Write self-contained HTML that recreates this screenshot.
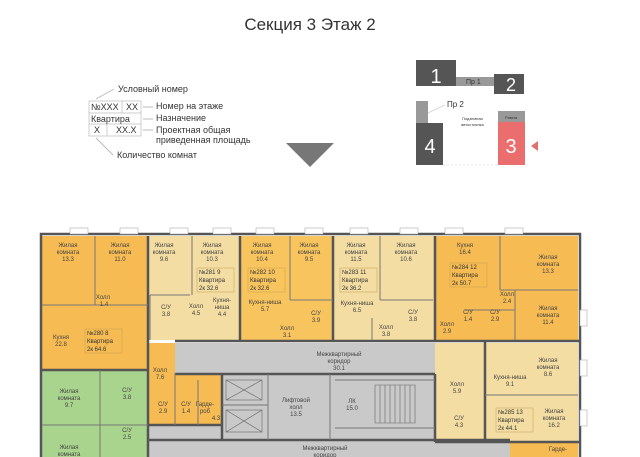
<!DOCTYPE html>
<html><head><meta charset="utf-8"><style>
body{margin:0;background:#fff;width:640px;height:457px;overflow:hidden}
svg{display:block}
text{font-family:"Liberation Sans",sans-serif;fill:#333}
.s{font-size:6px;text-anchor:middle;fill:#444}
</style></head><body>
<svg width="640" height="457" viewBox="0 0 640 457" xmlns="http://www.w3.org/2000/svg">
<text x="310" y="30" font-size="17" text-anchor="middle" fill="#444">Секция 3 Этаж 2</text>
<!-- legend -->
<g font-size="9" fill="#444">
<text x="118" y="92">Условный номер</text>
<text x="156" y="109">Номер на этаже</text>
<text x="156" y="121">Назначение</text>
<text x="156" y="133">Проектная общая</text>
<text x="156" y="143">приведенная площадь</text>
<text x="117" y="158">Количество комнат</text>
<rect x="89" y="101" width="52" height="35" fill="none" stroke="#bbb" stroke-width="0.7"/>
<line x1="89" y1="113" x2="141" y2="113" stroke="#bbb" stroke-width="0.7"/>
<line x1="89" y1="124" x2="141" y2="124" stroke="#bbb" stroke-width="0.7"/>
<line x1="122" y1="101" x2="122" y2="113" stroke="#bbb" stroke-width="0.7"/>
<line x1="107" y1="124" x2="107" y2="136" stroke="#bbb" stroke-width="0.7"/>
<line x1="143" y1="107" x2="153" y2="107" stroke="#bbb"/><line x1="143" y1="119" x2="153" y2="119" stroke="#bbb"/><line x1="143" y1="130" x2="153" y2="130" stroke="#bbb"/>
<line x1="96" y1="99" x2="114" y2="89" stroke="#bbb"/><line x1="96" y1="138" x2="113" y2="155" stroke="#bbb"/>
<text x="91" y="110">№XXX</text><text x="126" y="110">XX</text>
<text x="91" y="122">Квартира</text><text x="94" y="133">X</text><text x="116" y="133">XX.X</text>
</g>
<polygon points="286,143 334,143 310,167" fill="#777"/>
<!-- key plan -->
<rect x="416" y="60" width="40" height="26" fill="#555"/>
<text x="436" y="83" font-size="20" style="fill:#fff" text-anchor="middle">1</text>
<rect x="456" y="77" width="40" height="9" fill="#999"/>
<text x="466" y="84" font-size="7" fill="#333">Пр 1</text>
<rect x="494" y="74" width="30" height="20" fill="#555"/>
<text x="511" y="91" font-size="18" style="fill:#fff" text-anchor="middle">2</text>
<rect x="416" y="101" width="12" height="22" fill="#999"/>
<rect x="416" y="123" width="27" height="42" fill="#555"/>
<text x="430" y="153" font-size="20" style="fill:#fff" text-anchor="middle">4</text>
<text x="447" y="107" font-size="8" fill="#333">Пр 2</text>
<line x1="428" y1="113" x2="445" y2="105" stroke="#bbb" stroke-width="0.6"/>
<text x="462" y="120" font-size="4" fill="#666">Подземная</text><text x="461" y="126" font-size="4" fill="#666">автостоянка</text>
<rect x="498" y="111" width="27" height="11" fill="#999"/>
<text x="511" y="119" font-size="4" fill="#333" text-anchor="middle">Рампа</text>
<rect x="498" y="122" width="27" height="43" fill="#eb6e6e"/>
<text x="511" y="153" font-size="20" style="fill:#fff" text-anchor="middle">3</text>
<polygon points="531,146 538,141 538,151" fill="#e07070"/>
<line x1="443" y1="165" x2="498" y2="165" stroke="#ccc" stroke-dasharray="2,2" stroke-width="0.6"/>
<!-- plan fills -->
<rect x="40" y="234" width="540" height="223" fill="#fff"/>
<rect x="42" y="236" width="106" height="134" fill="#f6bb52"/>
<rect x="148" y="236" width="92" height="104" fill="#f3dda2"/>
<rect x="240" y="236" width="93" height="104" fill="#f8c45e"/>
<rect x="333" y="236" width="102" height="104" fill="#f3dda2"/>
<rect x="435" y="236" width="143" height="104" fill="#f6bb52"/>
<rect x="148" y="343" width="27" height="30" fill="#f6bb52"/>
<rect x="148" y="370" width="74" height="55" fill="#f6bb52"/>
<rect x="42" y="370" width="106" height="87" fill="#a9d48e"/>
<rect x="175" y="343" width="310" height="30" fill="#c9c9c9"/>
<rect x="222" y="373" width="213" height="67" fill="#c9c9c9"/>
<rect x="148" y="425" width="362" height="32" fill="#c9c9c9"/>
<rect x="435" y="343" width="143" height="100" fill="#f3dda2"/>
<rect x="510" y="443" width="68" height="14" fill="#f6bb52"/>
<!-- walls -->
<g stroke="#555" stroke-width="2.5" fill="none">
<path d="M41,457 V234 H580 V457"/>
<line x1="148" y1="236" x2="148" y2="457"/>
<line x1="240" y1="236" x2="240" y2="340"/>
<line x1="333" y1="236" x2="333" y2="340"/>
<line x1="435" y1="236" x2="435" y2="340"/>
<line x1="175" y1="341" x2="580" y2="341"/>
<line x1="42" y1="370" x2="148" y2="370"/>
<line x1="175" y1="374" x2="435" y2="374"/>
<line x1="222" y1="374" x2="222" y2="440"/>
<line x1="148" y1="425" x2="222" y2="425"/>
<line x1="148" y1="440" x2="510" y2="440"/>
<line x1="435" y1="374" x2="435" y2="442"/>
<line x1="485" y1="341" x2="485" y2="442"/>
<line x1="435" y1="442" x2="580" y2="442"/>
</g>
<g stroke="#777" stroke-width="1" fill="none">
<line x1="95" y1="236" x2="95" y2="305"/><line x1="42" y1="305" x2="148" y2="305"/>
<line x1="192" y1="236" x2="192" y2="295"/><line x1="150" y1="295" x2="190" y2="295"/><line x1="150" y1="295" x2="150" y2="340"/>
<line x1="290" y1="236" x2="290" y2="300"/><line x1="290" y1="300" x2="333" y2="300"/>
<line x1="380" y1="236" x2="380" y2="300"/><line x1="380" y1="300" x2="433" y2="300"/><line x1="372" y1="318" x2="372" y2="340"/>
<line x1="500" y1="236" x2="500" y2="290"/><line x1="500" y1="290" x2="578" y2="290"/>
<line x1="465" y1="310" x2="515" y2="310"/><line x1="515" y1="290" x2="515" y2="340"/>
<line x1="485" y1="395" x2="578" y2="395"/>
<line x1="268" y1="374" x2="268" y2="440"/><line x1="330" y1="374" x2="330" y2="440"/>
<line x1="222" y1="405" x2="268" y2="405"/>
<line x1="335" y1="380" x2="435" y2="380"/><line x1="335" y1="428" x2="435" y2="428"/>
<line x1="100" y1="370" x2="100" y2="457"/><line x1="42" y1="425" x2="148" y2="425"/>
<line x1="175" y1="373" x2="175" y2="425"/><line x1="198" y1="380" x2="198" y2="425"/>
</g>
<g stroke="#666" stroke-width="0.6" fill="none">
<rect x="226" y="380" width="36" height="20"/><line x1="226" y1="380" x2="262" y2="400"/><line x1="262" y1="380" x2="226" y2="400"/>
<rect x="226" y="410" width="36" height="22"/><line x1="226" y1="410" x2="262" y2="432"/><line x1="262" y1="410" x2="226" y2="432"/>
<path d="M375,385 h40 v38 h-40 z M380,385 v38 M385,385 v38 M390,385 v38 M395,385 v38 M400,385 v38 M405,385 v38 M410,385 v38"/>
</g>
<!-- labels -->
<g class="s">
<text x="68" y="247" class="s">Жилая</text><text x="68" y="254" class="s">комната</text><text x="68" y="261" class="s">13.3</text>
<text x="120" y="247" class="s">Жилая</text><text x="120" y="254" class="s">комната</text><text x="120" y="261" class="s">11.0</text>
<text x="103" y="299" class="s">Холл</text><text x="104" y="306" class="s">1.4</text>
<text x="61" y="339" class="s">Кухня</text><text x="61" y="346" class="s">22.8</text>
<text x="164" y="247" class="s">Жилая</text><text x="164" y="254" class="s">комната</text><text x="164" y="261" class="s">9.6</text>
<text x="212" y="247" class="s">Жилая</text><text x="212" y="254" class="s">комната</text><text x="212" y="261" class="s">10.3</text>
<text x="166" y="309" class="s">С/У</text><text x="166" y="316" class="s">3.8</text>
<text x="196" y="308" class="s">Холл</text><text x="196" y="315" class="s">4.5</text>
<text x="222" y="302" class="s">Кухня-</text><text x="222" y="309" class="s">ниша</text><text x="222" y="316" class="s">4.4</text>
<text x="262" y="247" class="s">Жилая</text><text x="262" y="254" class="s">комната</text><text x="262" y="261" class="s">10.4</text>
<text x="309" y="247" class="s">Жилая</text><text x="309" y="254" class="s">комната</text><text x="309" y="261" class="s">9.5</text>
<text x="265" y="304" class="s">Кухня-ниша</text><text x="265" y="311" class="s">5.7</text>
<text x="316" y="315" class="s">С/У</text><text x="316" y="322" class="s">3.9</text>
<text x="287" y="330" class="s">Холл</text><text x="287" y="337" class="s">3.1</text>
<text x="356" y="247" class="s">Жилая</text><text x="356" y="254" class="s">комната</text><text x="356" y="261" class="s">11.5</text>
<text x="406" y="247" class="s">Жилая</text><text x="406" y="254" class="s">комната</text><text x="406" y="261" class="s">10.6</text>
<text x="357" y="305" class="s">Кухня-ниша</text><text x="357" y="312" class="s">6.5</text>
<text x="386" y="329" class="s">Холл</text><text x="386" y="336" class="s">3.8</text>
<text x="413" y="314" class="s">С/У</text><text x="413" y="321" class="s">3.8</text>
<text x="465" y="247" class="s">Кухня</text><text x="465" y="254" class="s">16.4</text>
<text x="548" y="259" class="s">Жилая</text><text x="548" y="266" class="s">комната</text><text x="548" y="273" class="s">13.3</text>
<text x="507" y="296" class="s">Холл</text><text x="507" y="303" class="s">2.4</text>
<text x="548" y="310" class="s">Жилая</text><text x="548" y="317" class="s">комната</text><text x="548" y="324" class="s">11.4</text>
<text x="468" y="314" class="s">С/У</text><text x="468" y="321" class="s">1.4</text>
<text x="495" y="314" class="s">С/У</text><text x="495" y="321" class="s">2.9</text>
<text x="447" y="326" class="s">Холл</text><text x="447" y="333" class="s">2.9</text>
<text x="548" y="362" class="s">Жилая</text><text x="548" y="369" class="s">комната</text><text x="548" y="376" class="s">8.6</text>
<text x="510" y="379" class="s">Кухня-ниша</text><text x="510" y="386" class="s">9.1</text>
<text x="457" y="386" class="s">Холл</text><text x="457" y="393" class="s">5.9</text>
<text x="459" y="420" class="s">С/У</text><text x="459" y="427" class="s">4.3</text>
<text x="554" y="413" class="s">Жилая</text><text x="554" y="420" class="s">комната</text><text x="554" y="427" class="s">16.2</text>
<text x="558" y="451" class="s">Гарде-</text>
<text x="160" y="372" class="s">Холл</text><text x="160" y="379" class="s">7.6</text>
<text x="163" y="406" class="s">С/У</text><text x="163" y="413" class="s">2.9</text>
<text x="186" y="406" class="s">С/У</text><text x="186" y="413" class="s">1.4</text>
<text x="205" y="406" class="s">Гарде-</text><text x="205" y="413" class="s">роб</text><text x="216" y="420" class="s">4.3</text>
<text x="69" y="393" class="s">Жилая</text><text x="69" y="400" class="s">комната</text><text x="69" y="407" class="s">9.7</text>
<text x="127" y="392" class="s">С/У</text><text x="127" y="399" class="s">3.8</text>
<text x="127" y="432" class="s">С/У</text><text x="127" y="439" class="s">2.5</text>
<text x="69" y="449" class="s">Жилая</text><text x="69" y="456" class="s">комната</text>
<text x="339" y="356" class="s">Межквартирный</text><text x="339" y="363" class="s">коридор</text><text x="339" y="370" class="s">30.1</text>
<text x="296" y="402" class="s">Лифтовой</text><text x="296" y="409" class="s">холл</text><text x="296" y="416" class="s">13.5</text>
<text x="352" y="403" class="s">ЛК</text><text x="352" y="410" class="s">15.0</text>
<text x="325" y="450" class="s">Межквартирный</text><text x="325" y="457" class="s">коридор</text>
</g>
<!-- apartment tags -->
<g font-size="6" fill="#444" font-family="Liberation Sans,sans-serif">
<g stroke="#c9a050" stroke-width="0.5" fill="none">
<rect x="85" y="329" width="37" height="24"/><rect x="197" y="268" width="37" height="24"/>
<rect x="248" y="268" width="37" height="24"/><rect x="340" y="268" width="37" height="24"/>
<rect x="450" y="263" width="37" height="24"/><rect x="496" y="408" width="37" height="24"/>
</g>
<text x="87" y="335">№280  8</text><text x="87" y="343">Квартира</text><text x="87" y="351">2к   64.6</text>
<text x="199" y="274">№281  9</text><text x="199" y="282">Квартира</text><text x="199" y="290">2к   32.6</text>
<text x="250" y="274">№282 10</text><text x="250" y="282">Квартира</text><text x="250" y="290">2к   32.6</text>
<text x="342" y="274">№283 11</text><text x="342" y="282">Квартира</text><text x="342" y="290">2к   36.2</text>
<text x="452" y="269">№284 12</text><text x="452" y="277">Квартира</text><text x="452" y="285">2к   50.7</text>
<text x="498" y="414">№285 13</text><text x="498" y="422">Квартира</text><text x="498" y="430">2к   44.1</text>
</g>
<!-- windows top -->
<g fill="#fff" stroke="#aaa" stroke-width="0.6">
<rect x="70" y="228" width="18" height="6"/><rect x="120" y="228" width="18" height="6"/><rect x="170" y="228" width="18" height="6"/><rect x="213" y="228" width="18" height="6"/><rect x="256" y="228" width="18" height="6"/><rect x="305" y="228" width="18" height="6"/><rect x="350" y="228" width="18" height="6"/><rect x="400" y="228" width="18" height="6"/><rect x="445" y="228" width="18" height="6"/><rect x="505" y="228" width="18" height="6"/>
<rect x="580" y="310" width="7" height="16"/><rect x="580" y="360" width="7" height="16"/><rect x="580" y="410" width="7" height="16"/>
</g>
</svg>
</body></html>
